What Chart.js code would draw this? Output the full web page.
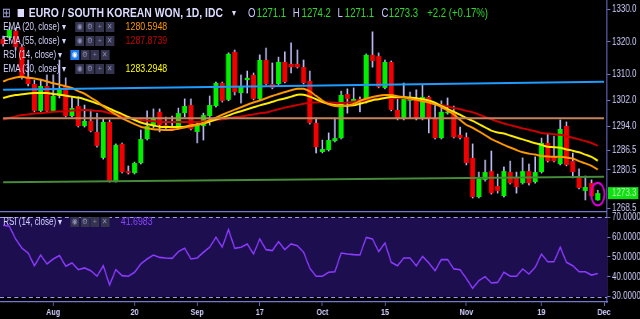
<!DOCTYPE html>
<html><head><meta charset="utf-8">
<script src="https://cdn.jsdelivr.net/npm/chart.js@4.4.0/dist/chart.umd.min.js"></script>
<style>
html,body{margin:0;padding:0;background:#000;overflow:hidden;width:640px;height:319px}
#wrap{position:absolute;left:0;top:0;width:800px;height:319px;transform:scaleX(0.8);transform-origin:0 0;font-family:'Liberation Sans',Arial,sans-serif}
canvas{position:absolute;left:0}
#main{top:0}
#rsi{top:211px}
.t{position:absolute;white-space:nowrap;line-height:1}
.lg{font-size:10px;color:#d4d4ff}
.ic{display:inline-block;width:11px;height:10px;margin-right:1.6px;background:#34344e;color:#8c8cb4;font-size:8px;line-height:10px;text-align:center;vertical-align:top}
.ic.on{background:#1e7cf2;color:#fff}
.hv{font-size:12px;color:#2ed82e}
.hk{font-size:12px;color:#c8c8ff}
</style></head><body>
<div id="wrap">
<canvas id="main" width="800" height="211"></canvas>
<canvas id="rsi" width="800" height="108"></canvas>

<div class="t" style="left:3px;top:6px;font-size:13px;color:#a8a8e8">&#x229E;</div>
<div class="t" style="left:22px;top:9px;width:8px;height:8px;background:#dcdcff"></div>
<div class="t" style="left:36px;top:6px;font-size:13px;font-weight:bold;color:#dcdcff">EURO / SOUTH KOREAN WON, 1D, IDC</div>
<div class="t" style="left:290px;top:8px;font-size:10px;color:#dcdcff">&#x25BE;</div>
<div class="t hk" style="left:310px;top:7px">O</div><div class="t hv" style="left:321px;top:7px">1271.1</div>
<div class="t hk" style="left:366px;top:7px">H</div><div class="t hv" style="left:377px;top:7px">1274.2</div>
<div class="t hk" style="left:422px;top:7px">L</div><div class="t hv" style="left:431px;top:7px">1271.1</div>
<div class="t hk" style="left:477px;top:7px">C</div><div class="t hv" style="left:486px;top:7px">1273.3</div>
<div class="t hv" style="left:534px;top:7px">+2.2 (+0.17%)</div>

<div class="t lg" style="left:4px;top:22px">EMA (20, close)</div><div class="t lg" style="left:78px;top:22px">&#x25BE;</div>
<div class="t" style="left:94px;top:22px"><span class="ic">&#x25C9;</span><span class="ic">&#x2699;</span><span class="ic">+</span><span class="ic">&#x2715;</span></div>
<div class="t" style="left:157px;top:21px;font-size:11px;color:#ff9900">1280.5948</div>

<div class="t lg" style="left:4px;top:36px">EMA (55, close)</div><div class="t lg" style="left:78px;top:36px">&#x25BE;</div>
<div class="t" style="left:94px;top:36px"><span class="ic">&#x25C9;</span><span class="ic">&#x2699;</span><span class="ic">+</span><span class="ic">&#x2715;</span></div>
<div class="t" style="left:157px;top:35px;font-size:11px;color:#c80000">1287.8739</div>

<div class="t lg" style="left:4px;top:50px">RSI (14, close)</div><div class="t lg" style="left:73px;top:50px">&#x25BE;</div>
<div class="t" style="left:88px;top:50px"><span class="ic on">&#x25C9;</span><span class="ic">&#x2699;</span><span class="ic">+</span><span class="ic">&#x2715;</span></div>

<div class="t lg" style="left:4px;top:64px">EMA (30, close)</div><div class="t lg" style="left:78px;top:64px">&#x25BE;</div>
<div class="t" style="left:94px;top:64px"><span class="ic">&#x25C9;</span><span class="ic">&#x2699;</span><span class="ic">+</span><span class="ic">&#x2715;</span></div>
<div class="t" style="left:157px;top:63px;font-size:11px;color:#ffff00">1283.2948</div>

<div class="t lg" style="left:4px;top:217px">RSI (14, close)</div><div class="t lg" style="left:73px;top:217px">&#x25BE;</div>
<div class="t" style="left:88px;top:217px"><span class="ic">&#x25C9;</span><span class="ic">&#x2699;</span><span class="ic">+</span><span class="ic">&#x2715;</span></div>
<div class="t" style="left:151px;top:216px;font-size:11px;color:#8a45ff">41.6983</div>
</div>
<script>
// ---------- data ----------
const dates = [
'2018-07-20','2018-07-23','2018-07-24','2018-07-25','2018-07-26','2018-07-27','2018-07-30','2018-07-31',
'2018-08-01','2018-08-02','2018-08-03','2018-08-06','2018-08-07','2018-08-08','2018-08-09','2018-08-10',
'2018-08-13','2018-08-14','2018-08-15','2018-08-16','2018-08-17','2018-08-20','2018-08-21','2018-08-22',
'2018-08-23','2018-08-24','2018-08-27','2018-08-28','2018-08-29','2018-08-30','2018-08-31',
'2018-09-03','2018-09-04','2018-09-05','2018-09-06','2018-09-07','2018-09-10','2018-09-11','2018-09-12',
'2018-09-13','2018-09-14','2018-09-17','2018-09-18','2018-09-19','2018-09-20','2018-09-21','2018-09-24',
'2018-09-25','2018-09-26','2018-09-27','2018-09-28',
'2018-10-01','2018-10-02','2018-10-03','2018-10-04','2018-10-05','2018-10-08','2018-10-09','2018-10-10',
'2018-10-11','2018-10-12','2018-10-15','2018-10-16','2018-10-17','2018-10-18','2018-10-19','2018-10-22',
'2018-10-23','2018-10-24','2018-10-25','2018-10-26','2018-10-29','2018-10-30','2018-10-31',
'2018-11-01','2018-11-02','2018-11-05','2018-11-06','2018-11-07','2018-11-08','2018-11-09','2018-11-12',
'2018-11-13','2018-11-14','2018-11-15','2018-11-16','2018-11-19','2018-11-20','2018-11-21','2018-11-22',
'2018-11-23','2018-11-26','2018-11-27','2018-11-28','2018-11-29','2018-11-30',
'2018-12-03'];

const tickDates  = ['2018-08-01','2018-08-20','2018-09-03','2018-09-17','2018-10-01','2018-10-15','2018-11-01','2018-11-19','2018-12-03'];
const tickLabels = ['Aug','20','Sep','17','Oct','15','Nov','19','Dec'];

const open = [
1320.9,1321.2,1323.4,1318.4,1309.2,1307.0,1298.7,1306.4,1298.7,1303.3,
1306.4,1297.1,1300.2,1294.0,1295.6,1292.2,1284.2,1295.3,1277.0,1288.5,
1280.1,1279.5,1282.6,1290.0,1294.0,1298.4,1294.3,1294.0,1293.4,1298.0,
1300.5,1292.2,1294.0,1297.1,1300.2,1307.3,1302.1,1316.9,1304.2,1308.2,
1309.8,1302.4,1314.4,1307.0,1307.0,1313.8,1313.2,1313.2,1312.2,1307.9,
1295.0,1286.0,1286.6,1289.4,1290.3,1303.9,1301.4,1302.4,1301.4,1316.0,
1315.6,1305.8,1313.8,1299.0,1296.2,1301.8,1302.1,1296.2,1303.0,1296.5,
1290.3,1298.0,1298.4,1291.3,1290.6,1284.2,1272.1,1277.4,1280.1,1275.5,
1272.4,1279.8,1278.0,1276.4,1280.1,1276.7,1279.8,1288.8,1284.8,1282.3,
1294.0,1283.2,1278.0,1274.0,1276.4,1271.1];
const high = [
1321.8,1324.6,1324.3,1319.3,1314.4,1308.2,1308.5,1309.8,1309.8,1314.4,
1308.9,1303.0,1303.0,1300.5,1299.0,1298.0,1296.2,1295.9,1288.5,1288.8,
1281.7,1282.9,1292.8,1298.7,1299.3,1299.3,1296.8,1297.1,1299.6,1302.4,
1302.4,1295.0,1298.0,1303.3,1307.6,1307.6,1316.6,1317.5,1309.8,1311.0,
1310.4,1316.0,1318.1,1313.5,1315.3,1316.9,1319.7,1317.5,1314.4,1311.0,
1296.5,1289.7,1291.9,1296.5,1304.8,1305.5,1305.8,1303.0,1316.3,1323.1,
1316.6,1314.4,1314.1,1303.0,1307.3,1304.5,1305.2,1306.7,1303.3,1300.8,
1301.8,1302.7,1300.2,1293.7,1291.9,1288.5,1279.8,1283.5,1286.3,1279.2,
1281.4,1283.2,1279.8,1284.2,1282.3,1284.5,1290.3,1291.6,1290.9,1295.9,
1295.3,1285.7,1280.8,1278.6,1277.4,1274.2];
const low = [
1318.7,1320.6,1317.5,1308.5,1306.4,1298.4,1298.4,1298.4,1298.4,1302.7,
1296.8,1296.8,1293.7,1293.7,1292.2,1287.5,1283.8,1276.7,1276.7,1279.5,
1279.2,1279.2,1282.3,1289.7,1293.4,1292.2,1292.8,1292.8,1293.1,1296.8,
1292.8,1288.8,1289.7,1294.3,1299.9,1301.4,1301.8,1303.6,1301.1,1304.2,
1302.1,1302.1,1306.7,1305.5,1306.7,1307.3,1310.4,1311.9,1307.0,1294.6,
1285.7,1285.7,1286.3,1289.1,1290.0,1298.0,1301.1,1298.4,1301.1,1312.2,
1305.8,1305.5,1298.7,1295.9,1295.9,1296.5,1295.9,1295.9,1291.9,1290.0,
1290.0,1297.7,1290.3,1290.0,1282.0,1271.8,1271.8,1277.0,1273.0,1273.3,
1272.1,1276.1,1273.3,1276.1,1275.8,1276.4,1279.5,1282.9,1282.9,1282.0,
1281.7,1278.0,1274.6,1271.2,1272.1,1271.1];
const close = [
1319.3,1323.7,1318.4,1309.2,1307.0,1298.7,1306.4,1298.7,1303.3,1305.8,
1297.1,1299.6,1294.0,1295.6,1292.5,1287.9,1295.3,1277.0,1288.2,1279.8,
1279.5,1282.6,1290.0,1294.0,1296.2,1294.3,1293.7,1293.1,1298.0,1300.2,
1293.1,1294.3,1297.4,1300.5,1307.3,1301.8,1316.3,1304.5,1306.1,1308.9,
1302.4,1314.4,1307.0,1305.8,1313.8,1307.6,1312.2,1312.2,1307.3,1295.0,
1287.5,1286.9,1289.7,1290.3,1303.6,1302.4,1302.4,1301.4,1316.0,1314.1,
1306.1,1313.8,1299.0,1296.2,1302.7,1302.4,1296.2,1303.0,1296.2,1290.3,
1298.4,1298.4,1290.6,1290.3,1282.6,1272.1,1277.7,1279.8,1273.3,1274.0,
1280.1,1276.4,1275.2,1280.1,1276.4,1279.8,1288.8,1283.2,1283.2,1293.1,
1282.0,1279.8,1274.9,1275.2,1272.4,1273.3];

const ema20 = [
1307.8,1308.5,1309.0,1309.2,1308.9,1308.7,1308.3,1307.8,1307.2,1306.8,
1306.3,1305.8,1304.8,1304.0,1302.8,1301.6,1300.1,1298.8,1297.6,1296.4,
1295.5,1294.6,1293.8,1293.4,1293.0,1292.9,1292.8,1292.8,1293.2,1293.6,
1294.0,1294.4,1294.9,1295.9,1296.6,1297.5,1298.3,1299.1,1299.8,1300.6,
1301.3,1301.9,1302.6,1303.3,1303.9,1304.5,1305.1,1305.5,1305.5,1304.7,
1303.3,1301.9,1300.7,1300.2,1300.2,1300.4,1300.8,1301.8,1302.5,1303.0,
1303.4,1303.6,1303.6,1303.2,1302.9,1302.5,1302.1,1301.7,1301.3,1300.7,
1299.9,1298.8,1297.6,1295.9,1294.4,1293.5,1292.4,1291.2,1290.0,1289.1,
1288.2,1287.4,1286.6,1285.9,1285.5,1285.2,1284.8,1284.6,1284.5,1284.5,
1284.3,1284.0,1283.2,1282.5,1281.7,1280.6];
const ema30 = [
1302.7,1303.2,1303.6,1303.8,1304.1,1304.2,1304.2,1304.2,1303.9,1303.7,
1303.4,1303.1,1302.8,1302.3,1301.7,1301.0,1300.3,1299.4,1298.5,1297.7,
1296.8,1295.9,1295.1,1294.6,1294.2,1293.8,1293.7,1293.7,1293.7,1293.8,
1294.2,1294.5,1294.8,1295.4,1296.0,1296.6,1297.3,1298.0,1298.6,1299.2,
1299.8,1300.4,1300.9,1301.5,1302.1,1302.5,1303.1,1303.7,1303.7,1303.1,
1302.3,1301.4,1300.8,1300.5,1300.4,1300.3,1300.4,1300.9,1301.4,1302.0,
1302.3,1302.7,1303.0,1303.0,1303.0,1302.8,1302.6,1302.3,1301.9,1301.2,
1300.2,1299.3,1298.4,1297.5,1296.5,1295.6,1294.6,1293.6,1292.6,1292.0,
1291.7,1291.1,1290.5,1289.9,1289.3,1288.7,1288.2,1287.6,1287.5,1287.3,
1286.8,1286.4,1285.9,1285.2,1284.5,1283.3];
const ema55 = [
1296.0,1296.5,1297.0,1297.4,1297.6,1297.9,1298.0,1298.2,1298.4,1298.5,
1298.6,1298.8,1298.9,1299.0,1298.9,1298.7,1298.5,1298.0,1297.6,1297.1,
1296.7,1296.3,1295.9,1295.7,1295.5,1295.3,1295.3,1295.3,1295.3,1295.3,
1295.3,1295.3,1295.4,1295.6,1295.9,1296.1,1296.4,1296.7,1297.0,1297.3,
1297.6,1298.0,1298.2,1298.7,1299.2,1299.7,1300.1,1300.5,1300.9,1301.2,
1301.3,1301.4,1301.3,1301.2,1301.1,1301.3,1301.5,1301.7,1301.9,1302.2,
1302.5,1302.7,1302.7,1302.7,1302.7,1302.4,1302.2,1302.0,1301.5,1301.0,
1300.5,1300.1,1299.6,1299.2,1298.7,1298.3,1297.6,1296.8,1296.1,1295.4,
1294.8,1294.3,1293.8,1293.3,1292.9,1292.4,1291.9,1291.7,1291.5,1291.3,
1290.9,1290.4,1289.9,1289.4,1288.8,1287.9];
const rsi14 = [
66.0,65.5,59.0,54.5,52.0,45.6,51.0,46.5,49.0,50.7,
45.3,47.0,43.6,44.5,43.1,40.3,45.6,35.9,43.6,40.6,
40.3,42.3,46.5,49.0,51.0,49.8,49.5,49.3,52.7,54.4,
49.0,49.5,52.4,54.9,59.9,54.9,63.8,54.4,54.9,56.6,
51.5,59.1,53.7,53.2,57.7,53.7,56.6,55.7,52.4,44.3,
40.3,40.3,42.3,42.6,52.0,51.5,51.2,51.0,59.9,59.1,
52.7,57.1,47.3,45.6,49.5,49.5,45.6,50.3,47.0,43.1,
48.7,48.7,44.0,43.6,39.2,34.2,38.1,40.1,36.9,37.2,
42.3,40.3,40.3,44.0,41.4,44.8,51.5,47.6,47.6,54.9,
47.3,45.6,42.6,42.6,40.9,41.7];

// drawn lines (start date/value, end date/value)
const blueTrend  = [['2018-07-20', 1305.2], ['2018-12-03', 1307.7]];
const levelLine  = [['2018-07-20', 1296.4], ['2018-12-03', 1296.4]];
const greenTrend = [['2018-07-20', 1276.7], ['2018-12-03', 1278.4]];
// highlighted bar (ellipse): date, centre value, half-height in price units
const highlightDate = '2018-11-30', highlightMid = 1273.0, highlightHalf = 3.5;

const priceTicks = [1330, 1320, 1310, 1302, 1294, 1286.5, 1280.5, 1268.5];
const priceMin = 1267.79, priceMax = 1332.93;
const rsiTicks = [70, 60, 50, 40, 30];
const rsiMin = 27.33, rsiMax = 73.17, rsiUpper = 70, rsiLower = 30;

// ---------- styling ----------
const UP = '#00f000', DOWN = '#f00000', WICK = '#c4c4ff';
const axisColor = '#7676d6', labelColor = '#d0d0ff';
const FONT = "'Liberation Sans', Arial, sans-serif";
const AXIS_W = 41;

const bodyColors = close.map((c, i) => c >= open[i] ? UP : DOWN);
const pts = seg => seg.map(p => ({x: p[0], y: p[1]}));

function yAxisFit(s){ s.width = AXIS_W; s.paddingTop = 0; s.paddingBottom = 0; }

const mainDecor = {
  id: 'mainDecor',
  afterDatasetsDraw(chart){
    const {ctx, scales:{x, y}} = chart;
    const i = dates.indexOf(highlightDate);
    const cx = x.getPixelForValue(i);
    const cy = y.getPixelForValue(highlightMid);
    const ry = Math.abs(y.getPixelForValue(highlightMid + highlightHalf) - cy);
    const rx = (x.getPixelForValue(1) - x.getPixelForValue(0)) * 1.07;
    ctx.save();
    ctx.strokeStyle = '#d400d4'; ctx.lineWidth = 2.2;
    ctx.beginPath(); ctx.ellipse(cx, cy, rx, ry, 0, 0, Math.PI*2); ctx.stroke();
    ctx.restore();
  },
  afterDraw(chart){
    const {ctx, chartArea, scales:{y}} = chart;
    const last = close[close.length-1];
    const yy = y.getPixelForValue(last);
    ctx.save();
    ctx.fillStyle = '#10e010';
    ctx.fillRect(chartArea.right + 1, yy - 6, 38, 12);
    ctx.fillStyle = '#b6f0b6';
    ctx.font = '10px ' + FONT;
    ctx.textBaseline = 'middle';
    ctx.fillText(last.toFixed(1), chartArea.right + 6, yy + 0.5);
    ctx.restore();
  }
};

new Chart(document.getElementById('main'), {
  type: 'bar',
  data: {
    labels: dates,
    datasets: [
      {type:'line', data: pts(blueTrend), borderColor:'#1e9cff', borderWidth:2, pointRadius:0, order:0},
      {type:'line', data: pts(levelLine), borderColor:'#c4825c', borderWidth:2, pointRadius:0, order:0},
      {type:'line', data: pts(greenTrend), borderColor:'#468a3a', borderWidth:2, pointRadius:0, order:0},
      {type:'line', data: ema55, borderColor:'#cc0000', borderWidth:2, pointRadius:0, tension:0.3, order:3},
      {type:'line', data: ema30, borderColor:'#ffee00', borderWidth:2, pointRadius:0, tension:0.3, order:2},
      {type:'line', data: ema20, borderColor:'#ff9900', borderWidth:2, pointRadius:0, tension:0.3, order:1},
      {data: open.map((o, i) => [o, close[i]]), backgroundColor: bodyColors, barPercentage:0.8, categoryPercentage:1, grouped:false, minBarLength:1, order:5},
      {data: low.map((l, i) => [l, high[i]]), backgroundColor: WICK, barThickness:1.25, grouped:false, order:6}
    ]
  },
  options: {
    responsive:false, animation:false, devicePixelRatio:1,
    layout:{padding:0},
    plugins:{legend:{display:false}, tooltip:{enabled:false}},
    scales:{
      x:{display:false, offset:true},
      y:{position:'right', min:priceMin, max:priceMax, bounds:'data',
         afterFit:yAxisFit,
         afterBuildTicks: s => { s.ticks = priceTicks.map(v => ({value:v})); },
         ticks:{color:labelColor, font:{size:10, family:FONT}, padding:2, callback: v => Number(v).toFixed(1)},
         grid:{drawOnChartArea:false, color:axisColor, tickLength:4},
         border:{display:true, color:axisColor, width:1.25}}
    }
  },
  plugins:[mainDecor]
});

const rsiDecor = {
  id: 'rsiDecor',
  beforeDatasetsDraw(chart){
    const {ctx, chartArea:ca, scales:{y}} = chart;
    const yU = y.getPixelForValue(rsiUpper), yL = y.getPixelForValue(rsiLower);
    ctx.save();
    ctx.fillStyle = '#1d0e50';
    ctx.fillRect(ca.left, yU, ca.right - ca.left, yL - yU);
    ctx.strokeStyle = '#9c9cf4'; ctx.lineWidth = 1; ctx.setLineDash([5, 4]);
    [yU, yL].forEach(v => { ctx.beginPath(); ctx.moveTo(ca.left, Math.round(v)+0.5); ctx.lineTo(ca.right, Math.round(v)+0.5); ctx.stroke(); });
    ctx.setLineDash([]);
    ctx.strokeStyle = axisColor; ctx.lineWidth = 1.2;
    ctx.beginPath(); ctx.moveTo(0, 0.6); ctx.lineTo(ca.right, 0.6); ctx.stroke();
    ctx.restore();
  }
};

new Chart(document.getElementById('rsi'), {
  type: 'line',
  data: {labels: dates, datasets: [{data: rsi14, borderColor:'#8c3cff', borderWidth:1.6, pointRadius:0, tension:0}]},
  options: {
    responsive:false, animation:false, devicePixelRatio:1,
    layout:{padding:0},
    plugins:{legend:{display:false}, tooltip:{enabled:false}},
    scales:{
      x:{type:'category', offset:true,
         afterBuildTicks: s => { s.ticks = tickDates.map(d => ({value: dates.indexOf(d)})); },
         afterFit: s => { s.height = 17; s.paddingLeft = 0; s.paddingRight = 0; },
         ticks:{autoSkip:false, maxRotation:0, color:labelColor, padding:1, font:{size:9, weight:'bold', family:FONT},
                callback: v => tickLabels[tickDates.indexOf(dates[v])]},
         grid:{drawOnChartArea:false, offset:false, color:axisColor, tickLength:4},
         border:{display:true, color:axisColor, width:1.25}},
      y:{position:'right', min:rsiMin, max:rsiMax, bounds:'data',
         afterFit:yAxisFit,
         afterBuildTicks: s => { s.ticks = rsiTicks.map(v => ({value:v})); },
         ticks:{color:labelColor, font:{size:10, family:FONT}, padding:2, callback: v => Number(v).toFixed(4)},
         grid:{drawOnChartArea:false, color:axisColor, tickLength:4},
         border:{display:true, color:axisColor, width:1.25}}
    }
  },
  plugins:[rsiDecor]
});
</script>
</body></html>
